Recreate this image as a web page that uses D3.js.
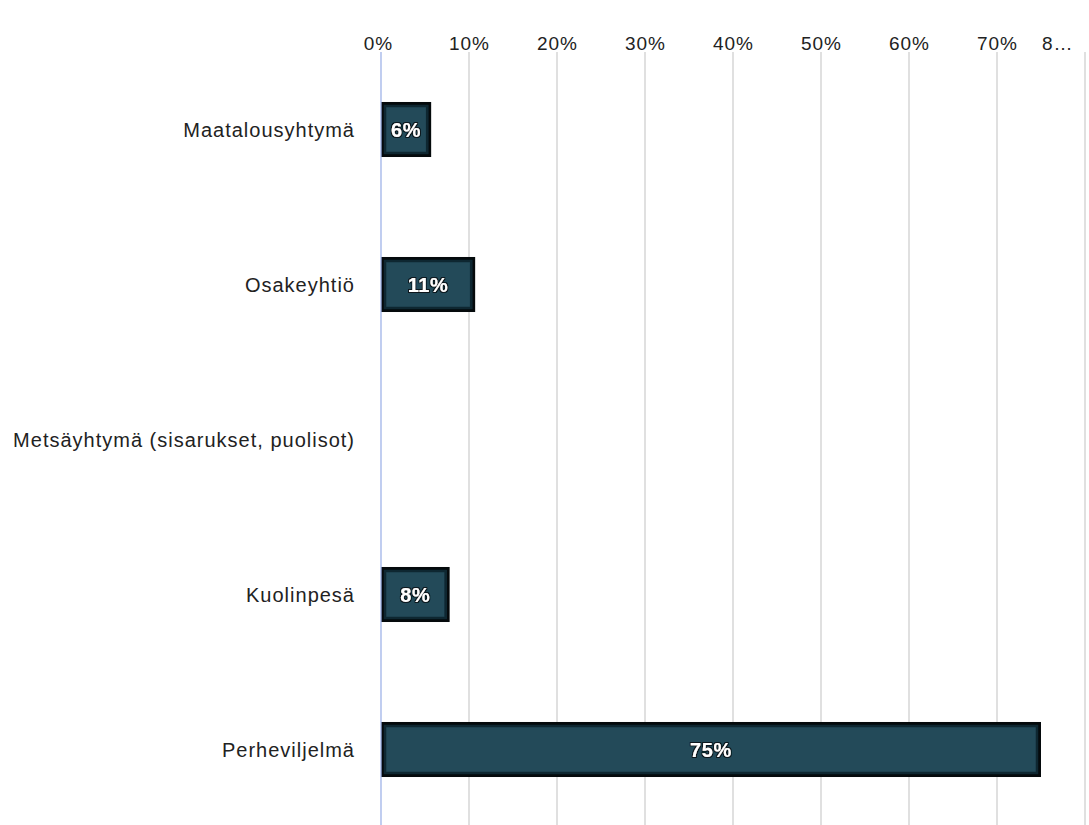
<!DOCTYPE html>
<html>
<head>
<meta charset="utf-8">
<script src="https://d3js.org/d3.v7.min.js"></script>
<style>
  body { margin: 0; background: #fff; }
  text { font-family: "Liberation Sans", Arial, sans-serif; }
</style>
</head>
<body>
<svg id="chart" width="1089" height="825"></svg>
<script>
// categories and values (percent)
const categories = ["Maatalousyhtymä", "Osakeyhtiö", "Metsäyhtymä (sisarukset, puolisot)", "Kuolinpesä", "Perheviljelmä"];
const values = [5.7, 10.7, 0, 7.8, 75];
const labels = ["6%", "11%", "", "8%", "75%"];
const tickValues = [0, 10, 20, 30, 40, 50, 60, 70, 80];
const tickLabels = ["0%", "10%", "20%", "30%", "40%", "50%", "60%", "70%", "8…"];

const svg = d3.select("#chart");

const x = d3.scaleLinear().domain([0, 80]).range([381, 1085]);
const y = d3.scaleBand().domain(categories).range([52, 827])
  .paddingInner(0.645).paddingOuter(0.3225);

// dark halo behind the value labels
const defs = svg.append("defs");
const f = defs.append("filter").attr("id", "halo").attr("x", "-20%").attr("y", "-40%").attr("width", "140%").attr("height", "180%");
f.append("feMorphology").attr("in", "SourceAlpha").attr("operator", "dilate").attr("radius", 1.3).attr("result", "d");
f.append("feFlood").attr("flood-color", "#08161c");
f.append("feComposite").attr("in2", "d").attr("operator", "in").attr("result", "h");
const m = f.append("feMerge");
m.append("feMergeNode").attr("in", "h");
m.append("feMergeNode").attr("in", "SourceGraphic");

// gridlines
svg.append("g").selectAll("line")
  .data(tickValues.slice(1))
  .join("line")
  .attr("x1", d => x(d)).attr("x2", d => x(d))
  .attr("y1", 52).attr("y2", 825)
  .attr("stroke", "#cccccc").attr("stroke-width", 1.2);

// top axis labels
const xAxis = d3.axisTop(x).tickValues(tickValues)
  .tickFormat((d, i) => tickLabels[i]).tickSize(0).tickPadding(0);
const ax = svg.append("g").attr("transform", "translate(0,50)").call(xAxis);
ax.select(".domain").remove();
ax.selectAll("text").attr("font-size", 19).attr("fill", "#222")
  .attr("letter-spacing", 1)
  .attr("font-family", "'Liberation Sans', Arial, sans-serif")
  .attr("dx", d => d === 0 ? -3 : 0);
// last label is truncated in the original, keep it inside the frame
ax.selectAll(".tick").filter(d => d === 80).select("text")
  .attr("text-anchor", "end").attr("dx", -12);

// bars
const barData = values.map((v, i) => ({ v, c: categories[i], l: labels[i] })).filter(d => d.v > 0);
svg.append("g").selectAll("rect")
  .data(barData)
  .join("rect")
  .attr("x", x(0) + 1.5)
  .attr("y", d => y(d.c) + 1.5)
  .attr("width", d => x(d.v) - x(0) - 3)
  .attr("height", y.bandwidth() - 3)
  .attr("fill", "#234a59")
  .attr("stroke", "#050a0c").attr("stroke-width", 3);

// inner dark glow
svg.append("g").selectAll("rect")
  .data(barData)
  .join("rect")
  .attr("x", x(0) + 4)
  .attr("y", d => y(d.c) + 4)
  .attr("width", d => x(d.v) - x(0) - 8)
  .attr("height", y.bandwidth() - 8)
  .attr("fill", "none")
  .attr("stroke", "#0e2731").attr("stroke-width", 2.5);

// zero line
svg.append("line")
  .attr("x1", x(0)).attr("x2", x(0))
  .attr("y1", 52).attr("y2", 825)
  .attr("stroke", "#9fb3e8").attr("stroke-width", 1.3);

// value labels
svg.append("g").selectAll("text")
  .data(barData)
  .join("text")
  .attr("x", d => (x(0) + x(d.v)) / 2)
  .attr("y", d => y(d.c) + y.bandwidth() / 2)
  .attr("dy", "0.36em")
  .attr("text-anchor", "middle")
  .attr("font-size", 20).attr("font-weight", "bold")
  .attr("letter-spacing", 0.6)
  .attr("fill", "#ffffff")
  .attr("filter", "url(#halo)")
  .text(d => d.l);

// category labels
svg.append("g").selectAll("text")
  .data(categories)
  .join("text")
  .attr("x", 355)
  .attr("y", d => y(d) + y.bandwidth() / 2)
  .attr("dy", "0.36em")
  .attr("text-anchor", "end")
  .attr("font-size", 20)
  .attr("letter-spacing", 1)
  .attr("fill", "#222")
  .text(d => d);
</script>
</body>
</html>
